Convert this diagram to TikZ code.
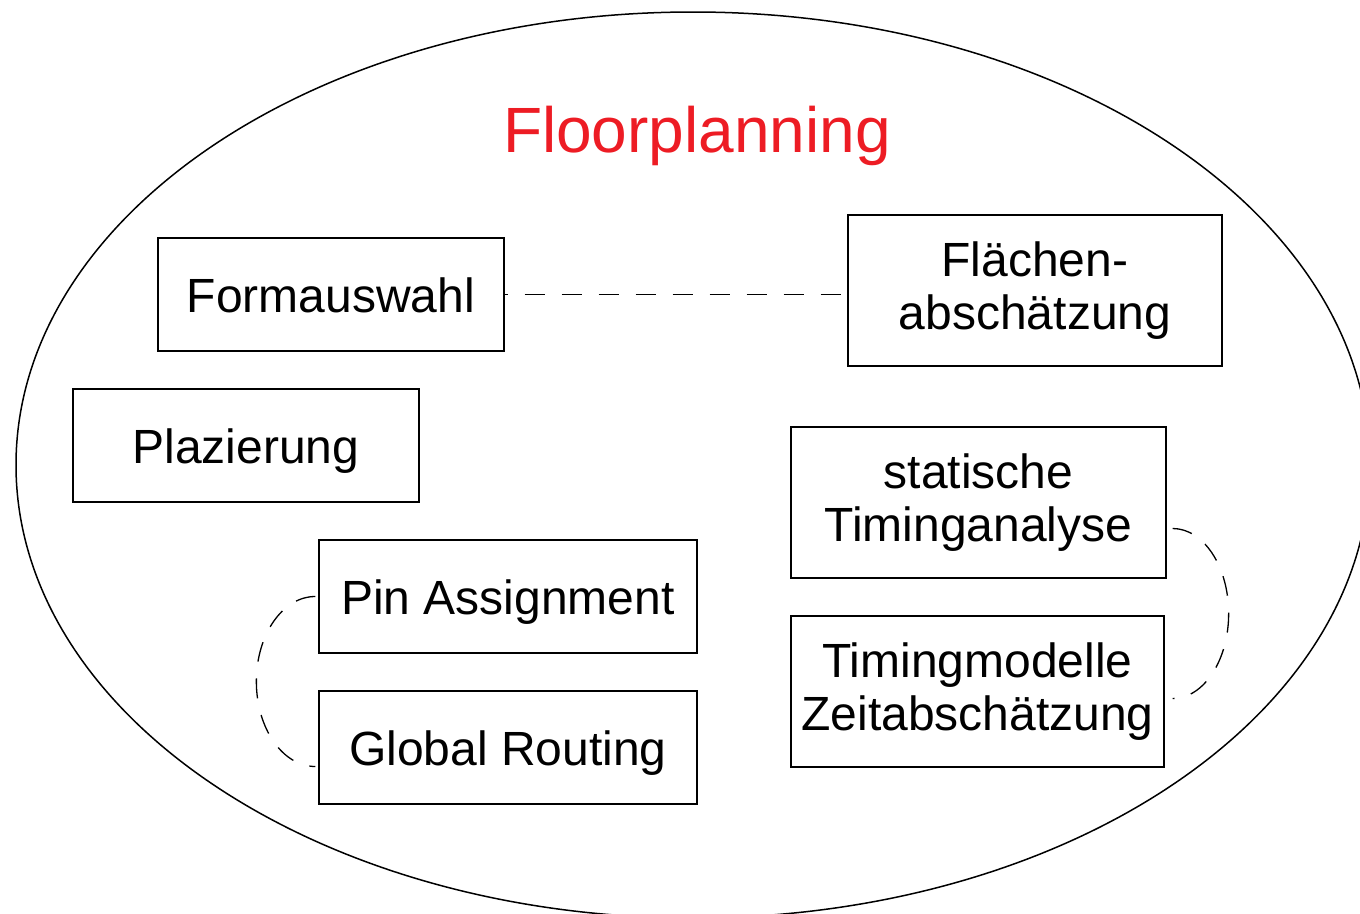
\documentclass[tikz,border=0pt]{standalone}
\usepackage{fontspec}
\setmainfont{Liberation Sans}
\definecolor{titlered}{RGB}{237,28,36}
\begin{document}
\begin{tikzpicture}[x=1pt,y=-1pt,
  onebox/.style={draw=black, line width=1.3pt, rectangle, inner sep=0pt,
    font=\fontsize{48}{53}\selectfont, text height=35pt, text depth=0pt},
  twobox/.style={draw=black, line width=1.3pt, rectangle, inner sep=0pt,
    font=\fontsize{48}{53}\selectfont, align=center},
  link/.style={draw=black, line width=1.3pt, dash pattern=on 20pt off 17pt}]
\useasboundingbox (0,0) rectangle (1360,913);
\clip (0,0) rectangle (1360,913);

% outer frame
\draw[line width=1.5pt] (693,465) ellipse [x radius=677pt, y radius=453pt];
\node[font=\fontsize{64}{70}\selectfont, text=titlered, anchor=base, inner sep=0pt]
  (title) at (697,152) {Floorplanning};

% task boxes
\node[onebox, minimum width=346pt, minimum height=113pt] (form) at (331,294.5) {Formauswahl};
\node[twobox, minimum width=374pt, minimum height=151pt] (flae) at (1035,290.5) {Flächen-\\abschätzung};
\node[onebox, minimum width=346pt, minimum height=113pt] (plaz) at (246,445.5) {Plazierung};
\node[twobox, minimum width=375pt, minimum height=151pt] (stat) at (978.5,502.5) {statische\\Timinganalyse};
\node[onebox, minimum width=378pt, minimum height=113pt] (pin) at (508,596.5) {Pin Assignment};
\node[onebox, minimum width=378pt, minimum height=113pt] (glob) at (508,747.5) {Global Routing};
\node[twobox, minimum width=373pt, minimum height=151pt] (timm) at (977.5,691.5) {Timingmodelle\\Zeitabschätzung};

% dashed relations
\draw[link, dash phase=17pt] (form.east) -- (form.east -| flae.west);
\draw[link] ([xshift=-3pt]pin.west) arc[start angle=90, end angle=270, x radius=59pt, y radius=85pt];
\draw[link] ([shift={(6pt,-26pt)}]stat.east) arc[start angle=90, end angle=-90, x radius=56pt, y radius=85pt];
\end{tikzpicture}
\end{document}
